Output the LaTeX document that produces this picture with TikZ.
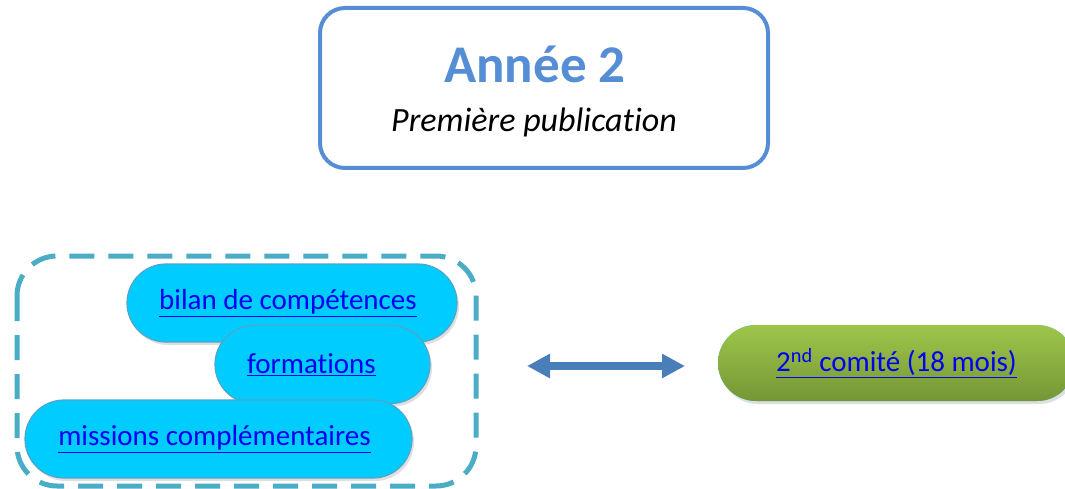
\documentclass[tikz,border=0pt]{standalone}
\usepackage{fontspec}
\setmainfont{Carlito}[Ligatures=NoCommon]
\usetikzlibrary{arrows.meta,shadows}
\definecolor{titleblue}{RGB}{85,142,213}
\definecolor{dashteal}{RGB}{75,172,198}
\definecolor{pillcyan}{RGB}{0,204,255}
\definecolor{pilledge}{RGB}{80,165,200}
\definecolor{arrowblue}{RGB}{74,126,187}
\definecolor{greentop}{RGB}{158,198,74}
\definecolor{greenbot}{RGB}{118,150,54}
\definecolor{linkblue}{RGB}{0,0,240}
\tikzset{
  pill/.style={draw=pilledge, line width=1.2pt, fill=pillcyan,
    minimum height=78pt, rounded corners=39pt, inner sep=0pt,
    font=\fontsize{29}{32}\selectfont, text=linkblue,
    drop shadow={shadow xshift=2pt, shadow yshift=-3pt, opacity=0.25}},
  greenpill/.style={pill, draw=none, top color=greentop, bottom color=greenbot,
    minimum height=76pt, rounded corners=38pt}
}
\begin{document}
\begin{tikzpicture}[x=1pt,y=-1pt]
  \useasboundingbox (0,0) rectangle (1065,489);
  \clip (0,0) rectangle (1065,489);

  \node[draw=titleblue, line width=4pt, rounded corners=25pt,
    minimum width=448pt, minimum height=160pt] (year) at (544,88) {};
  \node[anchor=base, text=titleblue, font=\fontsize{53}{60}\selectfont\bfseries]
    (yeartitle) at (535,83) {Année 2};
  \node[anchor=base, font=\fontsize{34}{40}\selectfont\itshape]
    (yearsub) at (534,132) {Première publication};

  \draw[dashteal, line width=5pt, dash pattern=on 25pt off 14pt, rounded corners=40pt]
    (17,256) rectangle (476,486);

  \node[pill, minimum width=330pt] (bilan) at (292,303)
    {\underline{bilan de compétences}\hspace*{8pt}};
  \node[pill, minimum width=215pt] (formations) at (322.5,364.5)
    {\underline{formations}\hspace*{22pt}};
  \node[pill, minimum width=387pt] (missions) at (218.5,439)
    {\underline{missions complémentaires}\hspace*{8pt}};

  \node[greenpill, minimum width=357pt] (comite) at (896.5,363)
    {\underline{2\textsuperscript{nd} comité (18 mois)}};

  \coordinate (left) at (527,366);
  \coordinate (right) at (685,366);
  \draw[arrowblue, line width=8pt,
    {Triangle[width=23pt,length=23pt]}-{Triangle[width=23pt,length=23pt]}]
    (left) -- (right);
\end{tikzpicture}
\end{document}
